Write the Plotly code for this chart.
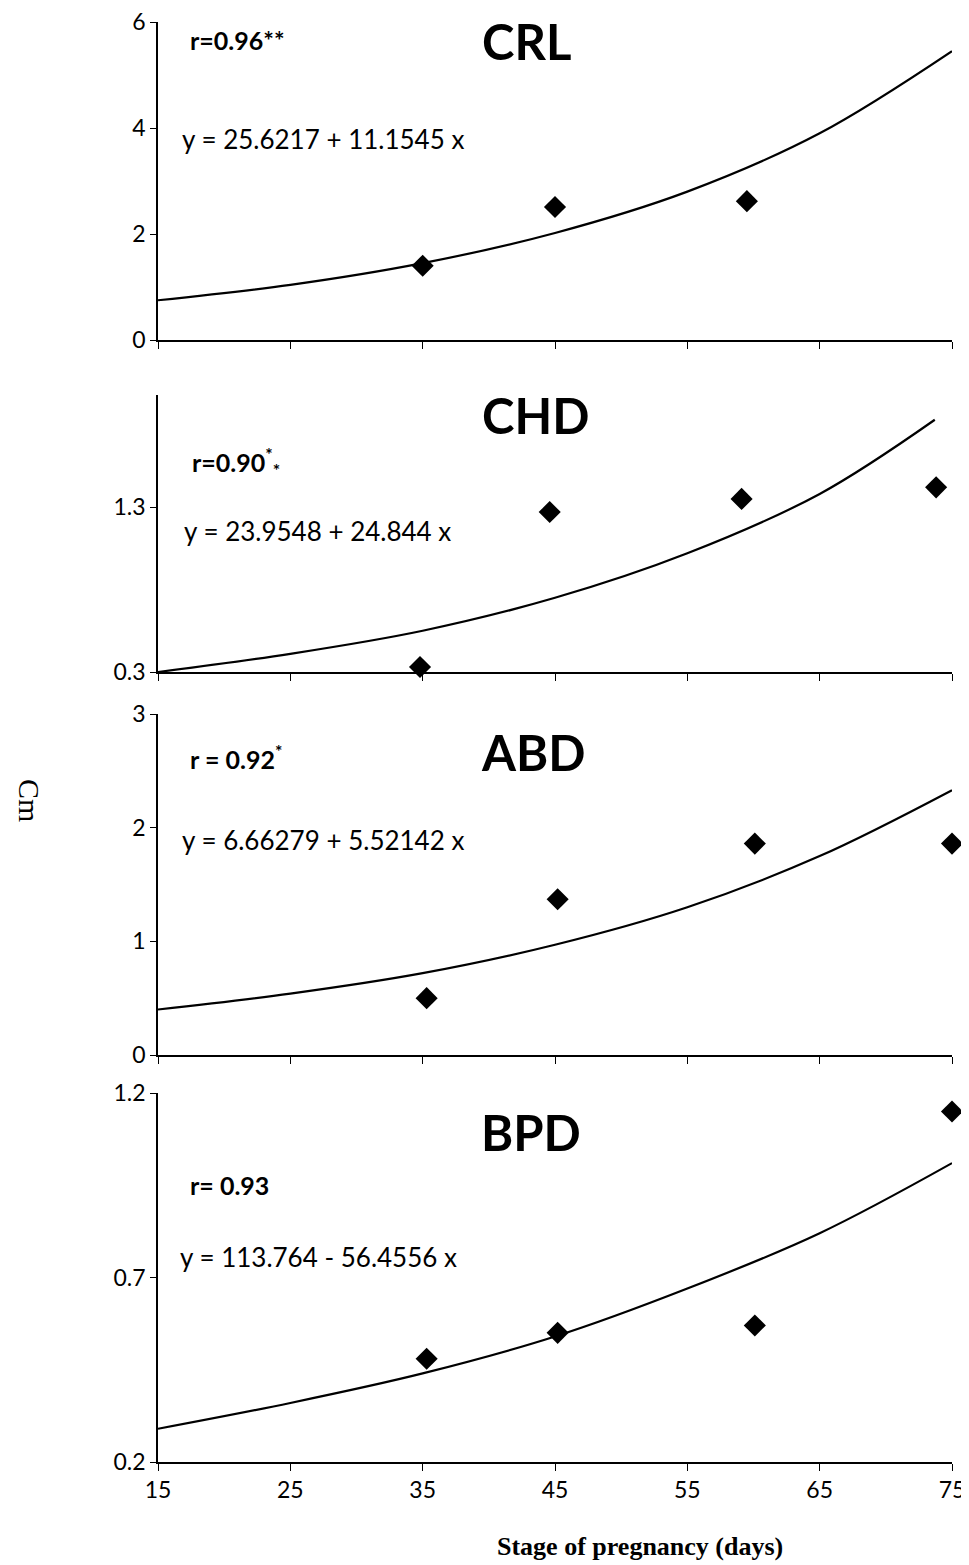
import plotly.graph_objects as go

# ---------------- data ----------------
panel_names = ["CRL", "CHD", "ABD", "BPD"]
r_labels = ["r=0.96**", "r=0.90<sup>*</sup><sub>*</sub>", "r = 0.92<sup>*</sup>", "r= 0.93"]
equations = ["y = 25.6217 + 11.1545 x", "y = 23.9548 + 24.844 x",
             "y = 6.66279 + 5.52142 x", "y = 113.764 - 56.4556 x"]

crl_x = [35, 45, 59.5]
crl_y = [1.40, 2.51, 2.62]
chd_x = [34.8, 44.6, 59.1, 73.8]
chd_y = [0.33, 1.27, 1.35, 1.42]
abd_x = [35.3, 45.2, 60.1, 75]
abd_y = [0.50, 1.37, 1.86, 1.86]
bpd_x = [35.3, 45.2, 60.1, 75]
bpd_y = [0.48, 0.55, 0.57, 1.15]

# trend curves
crl_tx = [15, 25, 35, 45, 55, 65, 75]
crl_ty = [0.75, 1.04, 1.45, 2.02, 2.80, 3.90, 5.45]
chd_tx = [15, 25, 35, 45, 55, 65, 73.7]
chd_ty = [0.30, 0.41, 0.55, 0.75, 1.02, 1.38, 1.83]
abd_tx = [15, 25, 35, 45, 55, 65, 75]
abd_ty = [0.40, 0.54, 0.72, 0.97, 1.30, 1.75, 2.33]
bpd_tx = [15, 25, 35, 45, 55, 65, 75]
bpd_ty = [0.29, 0.36, 0.44, 0.54, 0.67, 0.82, 1.01]

x_ticks = [15, 25, 35, 45, 55, 65, 75]
y_ticks = [[0, 2, 4, 6], [0.3, 1.3], [0, 1, 2, 3], [0.2, 0.7, 1.2]]
y_ranges = [[0, 6], [0.3, 1.98], [0, 3], [0.2, 1.2]]

points = [(crl_x, crl_y), (chd_x, chd_y), (abd_x, abd_y), (bpd_x, bpd_y)]
trends = [(crl_tx, crl_ty), (chd_tx, chd_ty), (abd_tx, abd_ty), (bpd_tx, bpd_ty)]

# ---------------- layout ----------------
# the page body has an 8px margin, so the figure is placed at (8, 8)
OFF = 8
W, H = 961, 1557
ml, mr, mt, mb = 150, 17, 14, 103
plot_h = H - mt - mb
# panel extents in reference-page pixels (top, bottom)
panel_px = [(22, 340), (395, 672), (714, 1055), (1093, 1462)]

def pxx(x):
    return (x - OFF - ml) / (W - ml - mr)

def pxy(y):
    return (H - mb - (y - OFF)) / plot_h

def dom(top, bot):
    return [pxy(bot), pxy(top)]

fig = go.Figure()
font_main = "Lato, 'Open Sans', sans-serif"

for i in range(4):
    xa = "x" if i == 0 else f"x{i+1}"
    ya = "y" if i == 0 else f"y{i+1}"
    tx, ty = trends[i]
    px, py = points[i]
    fig.add_trace(go.Scatter(x=tx, y=ty, mode="lines", line=dict(color="black", width=2.2, shape="spline"),
                             xaxis=xa, yaxis=ya, showlegend=False, cliponaxis=False))
    fig.add_trace(go.Scatter(x=px, y=py, mode="markers",
                             marker=dict(symbol="diamond", size=17, color="black"),
                             xaxis=xa, yaxis=ya, showlegend=False, cliponaxis=False))
    top, bot = panel_px[i]
    xkey = "xaxis" if i == 0 else f"xaxis{i+1}"
    ykey = "yaxis" if i == 0 else f"yaxis{i+1}"
    fig.layout[xkey] = dict(range=[15, 75], domain=[0, 1], anchor=ya, tickvals=x_ticks, automargin=False,
                            showticklabels=(i == 3), ticks="outside", ticklen=7, tickcolor="black",
                            ticklabeloverflow="allow",
                            showline=True, linecolor="black", linewidth=1.5, showgrid=False, zeroline=False,
                            tickfont=dict(family=font_main, size=23, color="black"))
    fig.layout[ykey] = dict(range=y_ranges[i], domain=dom(top, bot), anchor=xa, tickvals=y_ticks[i],
                            automargin=False, ticklabeloverflow="allow",
                            ticks="outside", ticklen=6, tickcolor="black", showline=True, linecolor="black",
                            linewidth=1.5, showgrid=False, zeroline=False,
                            tickfont=dict(family=font_main, size=23, color="black"))

title_pos = [(526, 41), (535, 415), (533, 752), (531, 1132)]
r_pos = [(188, 40), (190, 462), (188, 757), (188, 1185)]
eq_pos = [(180, 139), (182, 531), (180, 840), (178, 1257)]

for i in range(4):
    fig.add_annotation(x=pxx(title_pos[i][0]), y=pxy(title_pos[i][1]), xref="paper", yref="paper",
                       text=f"<b>{panel_names[i]}</b>", showarrow=False,
                       font=dict(family=font_main, size=49, color="black"), xanchor="center", yanchor="middle")
    fig.add_annotation(x=pxx(r_pos[i][0]), y=pxy(r_pos[i][1]), xref="paper", yref="paper",
                       text=f"<b>{r_labels[i]}</b>", showarrow=False,
                       font=dict(family=font_main, size=25, color="black"), xanchor="left", yanchor="middle")
    fig.add_annotation(x=pxx(eq_pos[i][0]), y=pxy(eq_pos[i][1]), xref="paper", yref="paper",
                       text=equations[i], showarrow=False,
                       font=dict(family=font_main, size=26, color="black"), xanchor="left", yanchor="middle")

fig.add_annotation(x=pxx(30), y=pxy(800), xref="paper", yref="paper", text="Cm", showarrow=False,
                   textangle=90, font=dict(family="'Liberation Serif', 'DejaVu Serif', serif", size=30, color="black"),
                   xanchor="center", yanchor="middle")
fig.add_annotation(x=pxx(640), y=pxy(1546), xref="paper", yref="paper",
                   text="<b>Stage of pregnancy (days)</b>", showarrow=False,
                   font=dict(family="'Liberation Serif', 'DejaVu Serif', serif", size=26, color="black"),
                   xanchor="center", yanchor="middle")

fig.update_layout(width=W, height=H, margin=dict(l=ml, r=mr, t=mt, b=mb, autoexpand=False),
                  plot_bgcolor="white", paper_bgcolor="white", showlegend=False)

fig.write_html("out.html")
